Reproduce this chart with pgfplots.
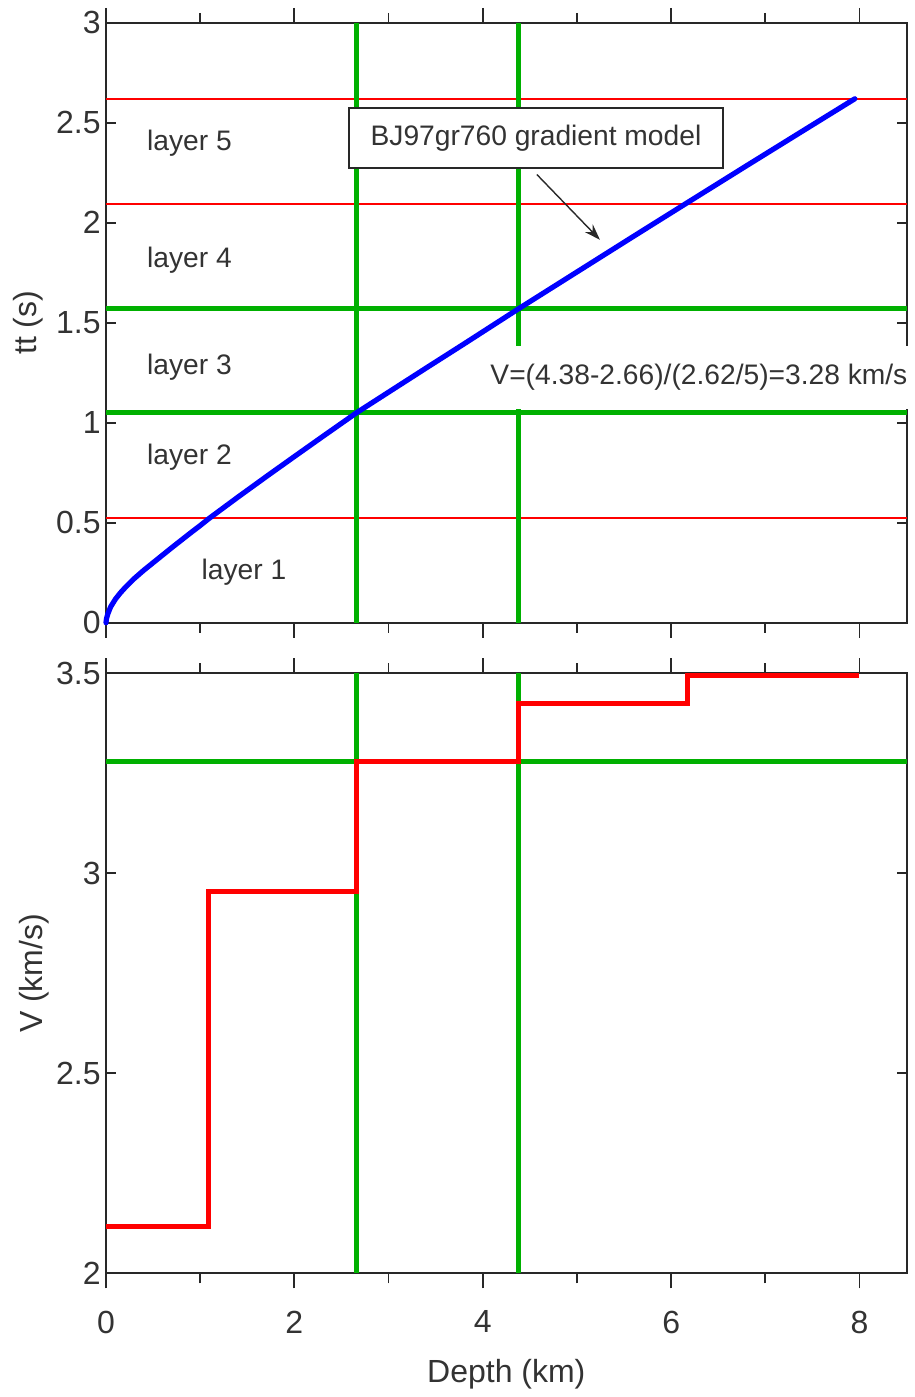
\documentclass[border=0pt]{standalone}
\usepackage{pgfplots}
\pgfplotsset{compat=1.18}
\usepackage{fontspec}
\setmainfont{Liberation Sans}
\usetikzlibrary{arrows.meta}
\definecolor{gline}{RGB}{0,176,0}
\definecolor{txt}{RGB}{51,51,51}
\definecolor{axc}{RGB}{40,40,40}
\pgfplotsset{
  base/.style={
    scale only axis, width=400.35pt, height=300pt,
    xmin=0, xmax=8.5, clip=false,
    axis line style={draw=axc, line width=0.9pt},
    tick style={draw=axc, line width=0.9pt},
    /pgf/number format/assume math mode=true,
    tick label style={font=\fontsize{16}{19}\selectfont, text=txt},
  },
  xtk/.style={base, tick align=outside, ytick=\empty,
    xtick={0,2,4,6,8}, minor x tick num=1,
    major tick length=7.5pt, minor tick length=5pt,
    xticklabel style={anchor=north, inner sep=0pt, yshift=-11pt}},
  ytk/.style={base, tick align=inside, xtick=\empty, major tick length=5pt,
    yticklabel style={anchor=east, inner sep=0pt, xshift=-2.5pt}},
}
\tikzset{ann/.style={font=\fontsize{14.1}{17}\selectfont, text=txt},
  lab/.style={font=\fontsize{16}{19}\selectfont, text=txt}}
\begin{document}
\begin{tikzpicture}
\useasboundingbox (-53pt,-61.85pt) rectangle (404.5pt,636.7pt);
% ---------- top panel ----------
\begin{axis}[xtk, at={(0,325.3pt)}, ymin=0, ymax=3, xticklabels={{},{},{},{},{}}]
\end{axis}
\begin{axis}[ytk, at={(0,325.3pt)}, ymin=0, ymax=3, ytick={0,0.5,...,3},
  ylabel={tt (s)},
  every axis y label/.style={at={(axis description cs:-0.097,0.5)}, anchor=center, rotate=90, lab}]
  \addplot[red, line width=0.8pt] coordinates {(0,0.523) (8.5,0.523)};
  \addplot[red, line width=0.8pt] coordinates {(0,2.095) (8.5,2.095)};
  \addplot[red, line width=0.8pt] coordinates {(0,2.62) (8.5,2.62)};
  \addplot[gline, line width=2.4pt] coordinates {(2.66,0) (2.66,3)};
  \addplot[gline, line width=2.4pt] coordinates {(4.38,0) (4.38,3)};
  \addplot[gline, line width=2.4pt] coordinates {(0,1.05) (8.5,1.05)};
  \addplot[gline, line width=2.4pt] coordinates {(0,1.57) (8.5,1.57)};
  \addplot[blue, line width=2.6pt, line join=round, line cap=round] coordinates {
    (0,0) (0.005,0.02) (0.02,0.045) (0.05,0.08) (0.1,0.118) (0.15,0.148)
    (0.2,0.174) (0.25,0.198) (0.3,0.221) (0.4,0.262) (0.5,0.3) (0.6,0.338)
    (0.7,0.376) (0.8,0.413) (0.9,0.45) (1.0,0.486) (1.09,0.52) (1.4,0.628)
    (1.72,0.737) (2.0,0.831) (2.3,0.931) (2.66,1.05) (3.0,1.153) (3.4,1.274)
    (3.8,1.394) (4.38,1.57) (5.0,1.754) (5.6,1.932) (6.17,2.10) (6.8,2.285)
    (7.4,2.46) (7.95,2.62)};
  \node[ann] at (axis cs:0.886,2.398) {layer 5};
  \node[ann] at (axis cs:0.886,1.815) {layer 4};
  \node[ann] at (axis cs:0.886,1.277) {layer 3};
  \node[ann] at (axis cs:0.886,0.827) {layer 2};
  \node[ann] at (axis cs:1.465,0.251) {layer 1};
  \node[ann, draw=axc, fill=white, line width=0.9pt, inner sep=0pt,
        minimum width=186.7pt, minimum height=30pt] at (axis cs:4.565,2.424)
        {BJ97gr760 gradient model};
  \draw[axc, line width=0.7pt, -{Stealth[length=8pt,width=5.5pt]}]
        (axis cs:4.575,2.241) -- (axis cs:5.244,1.915);
  \node[ann, fill=white, inner xsep=2pt, inner ysep=0pt, minimum height=31.5pt]
        at (axis cs:6.295,1.227) {V=(4.38-2.66)/(2.62/5)=3.28 km/s};
\end{axis}
% ---------- bottom panel ----------
\begin{axis}[xtk, at={(0,0)}, ymin=2, ymax=3.5]
\end{axis}
\begin{axis}[ytk, at={(0,0)}, ymin=2, ymax=3.5, ytick={2,2.5,3,3.5},
  ylabel={V (km/s)}, xlabel={Depth (km)},
  every axis y label/.style={at={(axis description cs:-0.09,0.5)}, anchor=center, rotate=90, lab},
  every axis x label/.style={at={(axis description cs:0.5,-0.169)}, anchor=center, lab}]
  \addplot[gline, line width=2.4pt] coordinates {(2.66,2) (2.66,3.5)};
  \addplot[gline, line width=2.4pt] coordinates {(4.38,2) (4.38,3.5)};
  \addplot[gline, line width=2.4pt] coordinates {(0,3.28) (8.5,3.28)};
  \addplot[red, line width=2.5pt, const plot mark left] coordinates {
    (0,2.118) (1.09,2.955) (2.66,3.28) (4.38,3.425) (6.17,3.495) (7.99,3.495)};
\end{axis}
\end{tikzpicture}
\end{document}
